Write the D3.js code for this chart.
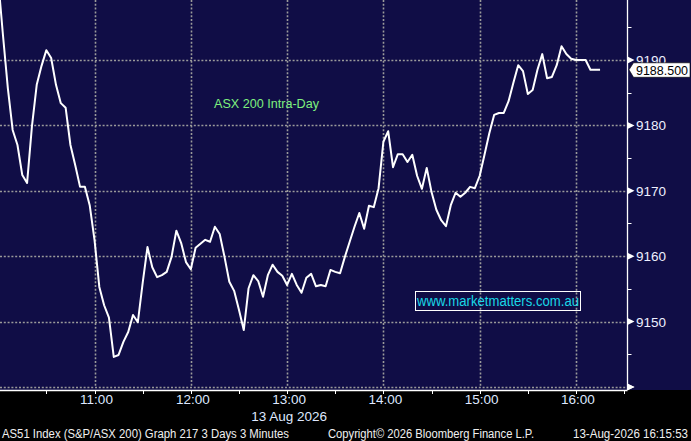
<!DOCTYPE html>
<html>
<head>
<meta charset="utf-8">
<script src="https://cdn.jsdelivr.net/npm/d3@7"></script>
<style>
html,body{margin:0;padding:0;background:#000;}
svg{display:block;}
text{font-family:"Liberation Sans",Arial,sans-serif;}
</style>
</head>
<body>
<svg id="chart" width="691" height="441"></svg>
<script>
// ---- data (3-minute bars, AS51 Index, 13 Aug 2026) ----
const startTime = [10, 0];          // first bar 10:00
const stepMinutes = 3;
const prices = [
  9202.2, 9193.7, 9185.7, 9179.3, 9177.0, 9172.4, 9171.2, 9179.8, 9186.2, 9189.1,
  9191.5, 9190.3, 9186.2, 9183.4, 9182.7, 9177.0, 9173.9, 9170.6, 9170.6, 9167.8,
  9162.5, 9155.3, 9152.5, 9150.6, 9144.6, 9144.9, 9146.9, 9148.4, 9151.0, 9149.9,
  9155.9, 9161.4, 9158.3, 9156.8, 9157.1, 9157.6, 9159.9, 9163.9, 9162.0, 9159.1,
  9158.0, 9161.3, 9161.9, 9162.5, 9162.2, 9164.5, 9163.4, 9159.9, 9156.1, 9154.7,
  9151.8, 9148.7, 9155.1, 9157.1, 9156.2, 9153.8, 9157.1, 9158.7, 9157.6, 9157.0,
  9155.6, 9157.3, 9155.6, 9154.4, 9156.7, 9157.3, 9155.4, 9155.6, 9155.4, 9157.9,
  9157.6, 9157.4, 9159.9, 9162.2, 9164.5, 9166.6, 9164.2, 9167.7, 9167.5, 9170.4,
  9177.5, 9179.1, 9173.6, 9175.6, 9175.6, 9174.4, 9175.5, 9172.3, 9170.3, 9173.5,
  9169.8, 9167.1, 9165.5, 9164.6, 9167.8, 9169.7, 9169.1, 9169.7, 9170.6, 9170.4,
  9172.3, 9175.5, 9178.8, 9181.6, 9181.9, 9181.9, 9183.7, 9186.5, 9189.2, 9188.3,
  9184.8, 9185.4, 9188.5, 9190.9, 9187.2, 9187.4, 9189.2, 9192.1, 9190.9, 9190.2,
  9190.0, 9190.0, 9190.0, 9188.5, 9188.5, 9188.5
];
const lastPrice = 9188.5;
const yTickValues = [9140, 9150, 9160, 9170, 9180, 9190];
const yMinorValues = [9145, 9155, 9165, 9175, 9185, 9195];
const hourLabels = ["11:00", "12:00", "13:00", "14:00", "15:00", "16:00"];
const dateLabel = "13 Aug 2026";
const titleText = "ASX 200 Intra-Day";
const siteText = "www.marketmatters.com.au";
const footerLeft = "AS51 Index (S&P/ASX 200) Graph 217 3 Days 3 Minutes";
const footerMid = "Copyright\u00A9 2026 Bloomberg Finance L.P.";
const footerRight = "13-Aug-2026 16:15:53";

// ---- build ----
const T = (h, m, s) => new Date(2026, 7, 13, h, m, s || 0);
const data = prices.map((v, i) => ({
  t: new Date(T(startTime[0], startTime[1]).getTime() + i * stepMinutes * 60000),
  v
}));

const svg = d3.select("#chart");
const W = 691, H = 441;
const plotRight = 627.5, plotBottom = 387, axisY = 390;

const x = d3.scaleTime().domain([T(10, 1, 7), T(16, 32, 6)]).range([0, plotRight]);
const y = d3.scaleLinear().domain([9140, 9199.17]).range([plotBottom, 0]);

svg.append("rect").attr("width", W).attr("height", H).attr("fill", "#000");
svg.append("rect").attr("width", W).attr("height", axisY).attr("fill", "#100d46");

// grid
const grid = svg.append("g").attr("stroke", "#9a9a9a").attr("stroke-width", 1.6)
  .attr("stroke-dasharray", "2,1.8");
yTickValues.forEach(v => {
  grid.append("line").attr("x1", 0).attr("x2", plotRight)
    .attr("y1", Math.round(y(v)) + 0.5).attr("y2", Math.round(y(v)) + 0.5);
});
const hourTimes = hourLabels.map(s => { const [h, m] = s.split(":").map(Number); return T(h, m); });
hourTimes.forEach(t => {
  grid.append("line").attr("y1", 0).attr("y2", plotBottom)
    .attr("x1", Math.round(x(t)) + 0.5).attr("x2", Math.round(x(t)) + 0.5);
});

// title & site box
svg.append("text").attr("x", 214).attr("y", 108).attr("fill", "#7ef07e")
  .attr("font-size", 13.5).attr("textLength", 105).attr("lengthAdjust", "spacingAndGlyphs")
  .text(titleText);
svg.append("rect").attr("x", 415.5).attr("y", 291.5).attr("width", 165).attr("height", 19)
  .attr("fill", "none").attr("stroke", "#ffffff").attr("stroke-width", 1);
svg.append("text").attr("x", 417).attr("y", 306).attr("fill", "#1ad8e6")
  .attr("font-size", 14).attr("textLength", 162).attr("lengthAdjust", "spacingAndGlyphs")
  .text(siteText);

// price line
svg.append("clipPath").attr("id", "clip").append("rect")
  .attr("x", 0).attr("y", 0).attr("width", plotRight).attr("height", plotBottom);
svg.append("path").datum(data)
  .attr("clip-path", "url(#clip)")
  .attr("fill", "none").attr("stroke", "#ffffff").attr("stroke-width", 2)
  .attr("stroke-linejoin", "round")
  .attr("d", d3.line().x(d => x(d.t)).y(d => y(d.v)));

// right axis
svg.append("line").attr("x1", plotRight).attr("x2", plotRight).attr("y1", 0).attr("y2", axisY)
  .attr("stroke", "#fff").attr("stroke-width", 1.3);
yMinorValues.forEach(v => {
  if (y(v) < 0) return;
  svg.append("line").attr("x1", plotRight).attr("x2", plotRight + 4)
    .attr("y1", Math.round(y(v)) + 0.5).attr("y2", Math.round(y(v)) + 0.5)
    .attr("stroke", "#fff").attr("stroke-width", 1);
});
yTickValues.forEach(v => {
  const yy = y(v);
  svg.append("path").attr("d", `M${plotRight},${yy - 3.5}L${plotRight + 7},${yy}L${plotRight},${yy + 3.5}Z`)
    .attr("fill", "#fff");
  if (v > 9140) {
    svg.append("text").attr("x", 636).attr("y", yy + 5).attr("fill", "#eef0ff")
      .attr("font-size", 13.5).text(String(v));
  }
});

// last price callout
const ly = y(lastPrice);
svg.append("path")
  .attr("d", `M${plotRight + 1.5},${ly}L${plotRight + 6},${ly - 7}L690,${ly - 7}L690,${ly + 7.5}L${plotRight + 6},${ly + 7.5}Z`)
  .attr("fill", "#fff").attr("stroke", "#000").attr("stroke-width", 0.6);
svg.append("text").attr("x", 636).attr("y", ly + 5).attr("fill", "#000")
  .attr("font-size", 13.5).attr("textLength", 52).attr("lengthAdjust", "spacingAndGlyphs")
  .text(lastPrice.toFixed(3));

// bottom axis
svg.append("line").attr("x1", 0).attr("x2", plotRight).attr("y1", axisY + 0.5).attr("y2", axisY + 0.5)
  .attr("stroke", "#fff").attr("stroke-width", 1.3);
// arrow at end of bottom axis
svg.append("path").attr("d", `M${plotRight},${plotBottom - 3}L${plotRight + 7},${plotBottom}L${plotRight},${plotBottom + 3}Z`)
  .attr("fill", "#fff");
const halfHours = d3.timeMinute.every(30).range(T(10, 30), T(16, 31));
halfHours.forEach(t => {
  svg.append("line").attr("x1", Math.round(x(t)) + 0.5).attr("x2", Math.round(x(t)) + 0.5)
    .attr("y1", axisY).attr("y2", axisY + 4).attr("stroke", "#fff").attr("stroke-width", 1);
});
hourTimes.forEach((t, i) => {
  svg.append("text").attr("x", x(t) + 2).attr("y", 404).attr("text-anchor", "middle")
    .attr("fill", "#dfe8ff").attr("font-size", 13.5).text(hourLabels[i]);
});
svg.append("text").attr("x", x(T(13, 0)) + 2).attr("y", 421).attr("text-anchor", "middle")
  .attr("fill", "#dfe8ff").attr("font-size", 13.5).text(dateLabel);

// footer
const foot = svg.append("g").attr("fill", "#f0f0f0").attr("font-size", 12);
foot.append("text").attr("x", 2).attr("y", 438).attr("textLength", 287)
  .attr("lengthAdjust", "spacingAndGlyphs").text(footerLeft);
foot.append("text").attr("x", 328).attr("y", 438).attr("textLength", 206)
  .attr("lengthAdjust", "spacingAndGlyphs").text(footerMid);
foot.append("text").attr("x", 573).attr("y", 438).attr("textLength", 115)
  .attr("lengthAdjust", "spacingAndGlyphs").text(footerRight);
</script>
</body>
</html>
